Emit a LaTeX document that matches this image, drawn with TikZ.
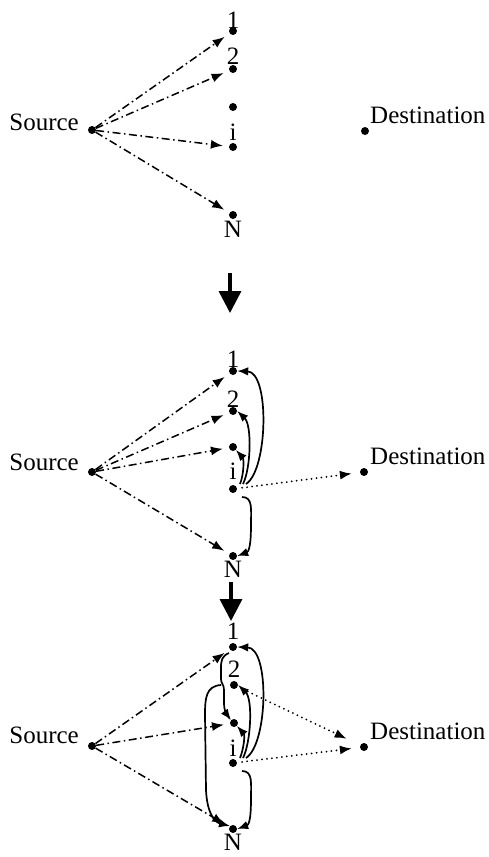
\documentclass[tikz,border=0pt]{standalone}
\usepackage{fontspec}
\setmainfont{Liberation Serif}
\usetikzlibrary{arrows.meta,calc}
\begin{document}
\begin{tikzpicture}[x=1pt,y=-1pt,
  dot/.style={circle,fill=black,inner sep=0pt,minimum size=8pt},
  lbl/.style={inner sep=0pt,anchor=base,font=\fontsize{25}{30}\selectfont},
  srclbl/.style={inner sep=0pt,anchor=base east,font=\fontsize{25}{30}\selectfont},
  dstlbl/.style={inner sep=0pt,anchor=base west,font=\fontsize{25}{30}\selectfont},
  ddarrow/.style={line width=1.5pt,dash pattern=on 8pt off 3.5pt on 1.5pt off 3.5pt,-{Latex[length=12pt,width=9pt]},shorten >=6pt},
  dotarrow/.style={line width=2pt,line cap=round,dash pattern=on 0pt off 5pt,-{Latex[length=12pt,width=9pt]}},
  solidarrow/.style={line width=1.7pt,-{Latex[length=11pt,width=8.5pt]}},
  bigarrow/.style={line width=3.5pt,-{Triangle[width=22pt,length=22pt]}}
]
\useasboundingbox (0,0) rectangle (489,857);

% ---------- Panel 1 ----------
\node[dot] (s1) at (92,130) {};
\node[srclbl] (s1t) at (79,130) {Source};
\node[dot] (d1) at (365,131) {};
\node[dstlbl] (d1t) at (370,123) {Destination};
\node[dot] (p1n1) at (233,31) {};
\node[dot] (p1n2) at (233,69) {};
\node[dot] (p1n3) at (233,107) {};
\node[dot] (p1ni) at (233,147) {};
\node[dot] (p1nN) at (233,215) {};
\node[lbl] (p1l1) at (233,28) {1};
\node[lbl] (p1l2) at (233,64) {2};
\node[lbl] (p1li) at (233,140) {i};
\node[lbl] (p1lN) at (233,237) {N};
\draw[ddarrow] (s1) -- (p1n1);
\draw[ddarrow] (s1) -- (p1n2);
\draw[ddarrow] (s1) -- (p1ni);
\draw[ddarrow] (s1) -- (p1nN);

% ---------- big arrow 1 ----------
\coordinate (ba1s) at (230,273);
\coordinate (ba1e) at (230,313);
\draw[bigarrow] (ba1s) -- (ba1e);

% ---------- Panel 2 ----------
\node[dot] (s2) at (92,472) {};
\node[srclbl] (s2t) at (79,470) {Source};
\node[dot] (d2) at (364,472) {};
\node[dstlbl] (d2t) at (370,464) {Destination};
\node[dot] (a1) at (233,371) {};
\node[dot] (a2) at (233,411) {};
\node[dot] (a3) at (233,447) {};
\node[dot] (ai) at (233,489) {};
\node[dot] (aN) at (233,556) {};
\node[lbl] (al1) at (233,367) {1};
\node[lbl] (al2) at (233,407) {2};
\node[lbl] (ali) at (233,479) {i};
\node[lbl] (alN) at (233,577) {N};
\draw[ddarrow] (s2) -- (a1);
\draw[ddarrow] (s2) -- (a2);
\draw[ddarrow] (s2) -- (a3);
\draw[ddarrow] (s2) -- (aN);
\draw[dotarrow,shorten <=5pt,shorten >=8pt] (ai) -- (d2);
\draw[solidarrow] ($(ai)+(13,-5)$) .. controls ($(ai)+(35,-19)$) and ($(a1)+(37,1)$) .. (a1.east);
\draw[solidarrow] ($(ai)+(10,-5)$) .. controls ($(ai)+(18,-21)$) and ($(a2)+(19,14)$) .. (a2.east);
\draw[solidarrow] ($(ai)+(7,-5)$) .. controls ($(ai)+(11,-15)$) and ($(a3)+(11,12)$) .. (a3.south east);
\draw[solidarrow] ($(ai)+(9,8)$) .. controls ($(ai)+(20,8)$) and ($(ai)+(18,20)$) .. ($(ai)+(18,36)$)
   .. controls ($(ai)+(18,60)$) and ($(aN)+(15,-4)$) .. (aN.east);

% ---------- big arrow 2 ----------
\coordinate (ba2s) at (231,582);
\coordinate (ba2e) at (231,621);
\draw[bigarrow] (ba2s) -- (ba2e);

% ---------- Panel 3 ----------
\node[dot] (s3) at (92,746) {};
\node[srclbl] (s3t) at (79,743) {Source};
\node[dot] (d3) at (364,747) {};
\node[dstlbl] (d3t) at (370,739) {Destination};
\node[dot] (b1) at (233,647) {};
\node[dot] (b2) at (234,685) {};
\node[dot] (b3) at (234,723) {};
\node[dot] (bi) at (233,763) {};
\node[dot] (bN) at (233,829) {};
\node[lbl] (bl1) at (233,639) {1};
\node[lbl] (bl2) at (234,677) {2};
\node[lbl] (bli) at (233,756) {i};
\node[lbl] (blN) at (233,850) {N};
\draw[ddarrow] (s3) -- (b1);
\draw[ddarrow] (s3) -- (b3);
\draw[ddarrow] (s3) -- (bN);
\draw[dotarrow,shorten <=6pt,shorten >=15pt] (b2) -- (d3);
\draw[dotarrow,shorten <=5pt,shorten >=8pt] (bi) -- (d3);
\draw[solidarrow] ($(bi)+(13,-5)$) .. controls ($(bi)+(35,-19)$) and ($(b1)+(37,1)$) .. (b1.east);
\draw[solidarrow] ($(bi)+(10,-5)$) .. controls ($(bi)+(18,-21)$) and ($(b2)+(19,14)$) .. (b2.east);
\draw[solidarrow] ($(bi)+(7,-5)$) .. controls ($(bi)+(11,-15)$) and ($(b3)+(11,12)$) .. (b3.south east);
\draw[solidarrow] ($(bi)+(9,8)$) .. controls ($(bi)+(20,8)$) and ($(bi)+(18,20)$) .. ($(bi)+(18,36)$)
   .. controls ($(bi)+(18,60)$) and ($(bN)+(15,-4)$) .. (bN.east);
% left-side curves
\draw[solidarrow] ($(b1)+(-4,6)$) .. controls (222,656) and (221,660) .. (221,668) -- (221,679)
   .. controls (221,684) and (224,684) .. (224,690) -- (224,703)
   .. controls (224,712) and (228,716) .. (b3.north west);
\draw[solidarrow] ($(b2)+(-13,0)$) .. controls (206,686) and (205,698) .. (205,715) -- (206,790)
   .. controls (207,812) and (214,822) .. (bN.north west);
\end{tikzpicture}
\end{document}
